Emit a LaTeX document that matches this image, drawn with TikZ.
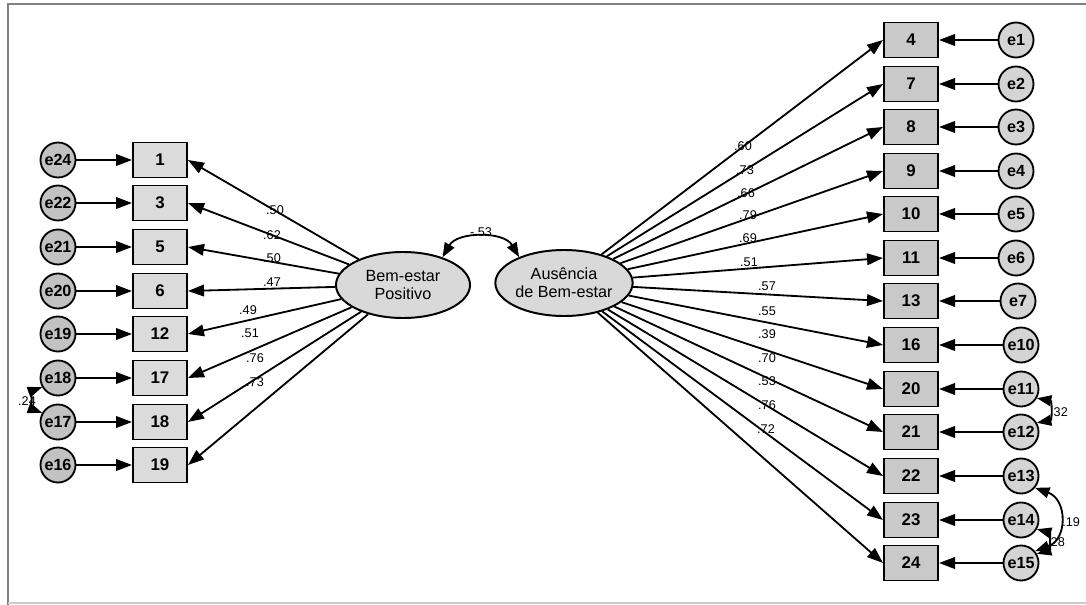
\documentclass[tikz,border=0pt]{standalone}
\usepackage{fontspec}
\setmainfont{Liberation Sans}
\usetikzlibrary{arrows.meta, shapes.geometric}

\definecolor{boxleft}{gray}{0.86}
\definecolor{boxright}{gray}{0.79}
\definecolor{errleft}{gray}{0.76}
\definecolor{errright}{gray}{0.83}
\definecolor{latfill}{gray}{0.85}

\tikzset{
  itembox/.style = {draw, line width=1.4pt, minimum width=1.35cm,
                    minimum height=0.875cm, inner sep=0pt,
                    font=\fontsize{12}{14}\selectfont\bfseries},
  errnode/.style = {circle, draw, line width=1.3pt, minimum size=0.875cm,
                    inner sep=0pt, font=\fontsize{11.5}{13}\selectfont\bfseries},
  latent/.style  = {ellipse, draw, line width=1.4pt, fill=latfill,
                    minimum width=3.35cm, minimum height=1.65cm, inner sep=0pt,
                    align=center, font=\fontsize{11.5}{13}\selectfont},
  load/.style    = {-{Triangle[length=4mm, width=2.9mm]}, line width=1.3pt},
  cov/.style     = {{Triangle[length=3.6mm, width=2.7mm]}-{Triangle[length=3.6mm, width=2.7mm]},
                    line width=1.3pt},
  coef/.style    = {font=\fontsize{9}{10}\selectfont, inner sep=0pt}
}

\begin{document}
\begin{tikzpicture}[x = 0.025cm, y = -0.025cm]
        \useasboundingbox (0,0) rectangle (1086,605);
        % frame
        \draw[line width=1.6pt, color = gray] (8,605) -- (8,4) -- (1086,4);
        \draw[line width=1pt, color = gray!40] (8,603) -- (1086,603);

        % latent variables
        \node[latent] (bp) at (403,285) {Bem-estar\\Positivo};
        \node[latent] (ab) at (564,283) {Ausência\\de Bem-estar};
        \draw[cov] (bp.35) to[bend left=60] (ab.150);
        \node[coef] (cbpab) at (481,232) {-.53};

        % left items
        \foreach \b/\e/\y/\c/\lx/\ly in {1/24/160/.50/275/210, 3/22/203/.62/272/235,
                5/21/247/.50/272/258, 6/20/291/.47/272/282, 12/19/334/.49/248/310,
                17/18/378/.51/250/333, 18/17/422/.76/255/358, 19/16/465/.73/255/382}{
          \node[itembox, fill=boxleft] (b\b) at (160,\y) {\b};
          \node[errnode, fill=errleft] (e\e) at (58,\y) {e\e};
          \draw[load] (e\e) -- (b\b);
          \draw[load] (bp) -- (b\b.east);
          \node[coef] (c\b) at (\lx,\ly) {\c};
        }

        % right items
        \foreach \b/\e/\y/\ex/\c/\lx/\ly in {4/1/40/1016/.60/743/146, 7/2/84/1016/.73/745/170,
                8/3/127/1016/.66/746/193, 9/4/171/1016/.79/748/215, 10/5/214/1016/.69/748/238,
                11/6/258/1016/.51/749/262, 13/7/301/1018/.57/767/286, 16/10/345/1021/.55/767/311,
                20/11/389/1021/.39/767/334, 21/12/432/1021/.70/767/358, 22/13/476/1021/.53/767/381,
                23/14/520/1021/.76/767/405, 24/15/563/1021/.72/766/429}{
          \node[itembox, fill=boxright] (b\b) at (911,\y) {\b};
          \node[errnode, fill=errright] (e\e) at (\ex,\y) {e\e};
          \draw[load] (e\e) -- (b\b);
          \draw[load] (ab) -- (b\b.west);
          \node[coef] (c\b) at (\lx,\ly) {\c};
        }

        % error covariances
        \draw[cov] (e18.210) to[bend right=70] (e17.150);
        \node[coef] (c1817) at (27,401) {.24};
        \draw[cov] (e11.-30) to[bend left=80, looseness=1.6] (e12.30);
        \node[coef] (c1112) at (1059,412) {.32};
        \draw[cov] (e13.-40) to[bend left=70, looseness=1.4] (e15.40);
        \node[coef, anchor=west] (c1315) at (1062,522) {.19};
        \draw[cov] (e14.-30) to[bend left=75, looseness=1.4] (e15.30);
        \node[coef] (c1415) at (1056,542) {.28};
      \end{tikzpicture}
\end{document}
